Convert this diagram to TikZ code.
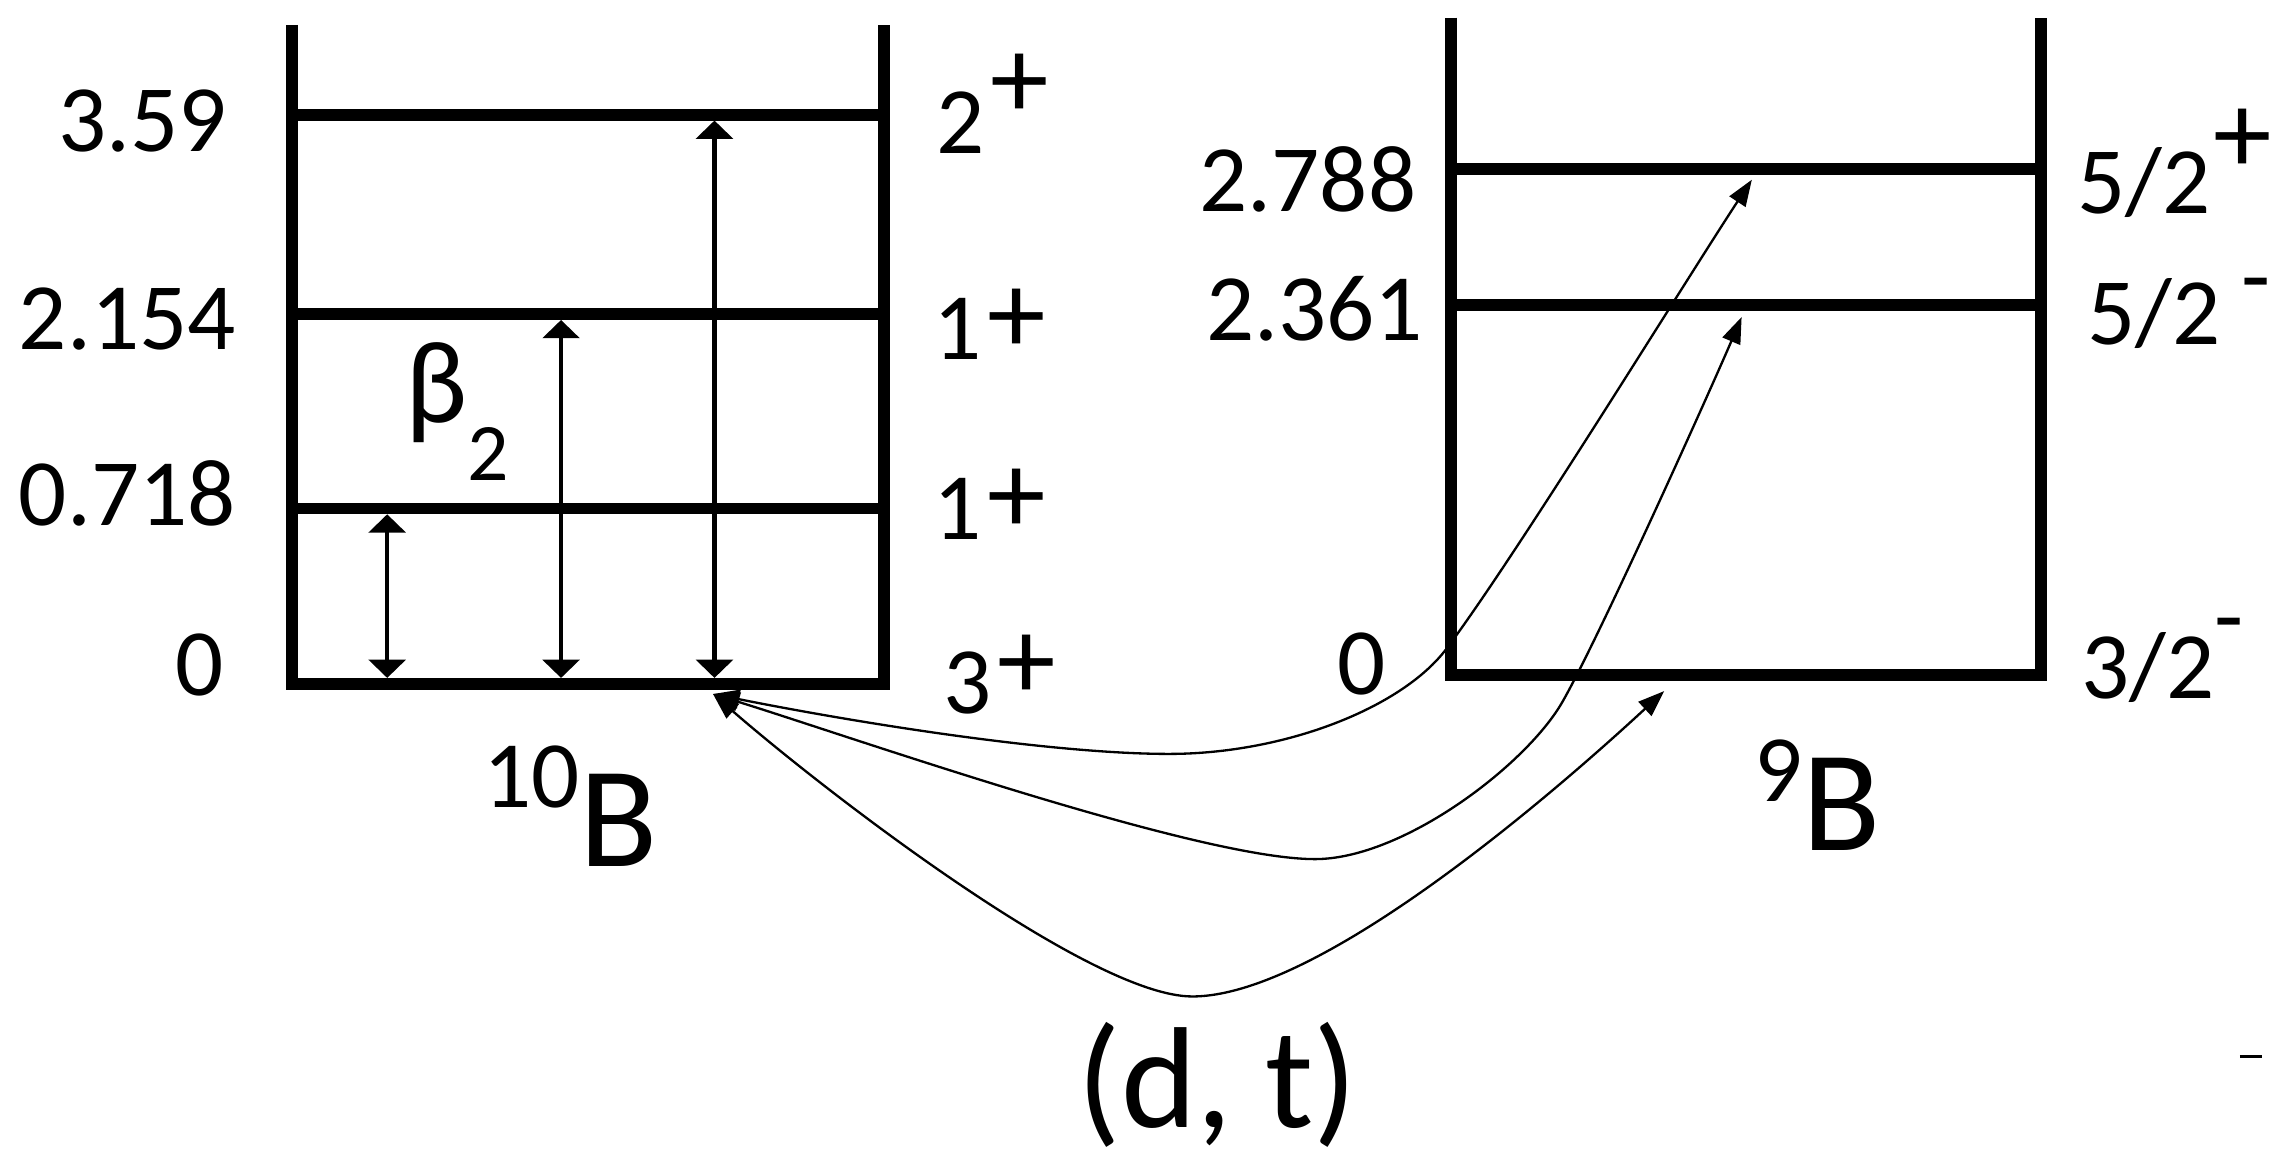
\documentclass[tikz,border=0pt]{standalone}
\usepackage{fontspec}
\setmainfont{Carlito}
\usetikzlibrary{arrows.meta}
\begin{document}
\begin{tikzpicture}[x=0.01cm,y=-0.01cm,
  lev/.style={line width=2.3pt},
  frame/.style={line width=2.3pt, line join=miter},
  vtr/.style={line width=0.85pt, {Triangle[length=0.125cm,width=0.25cm]}-{Triangle[length=0.125cm,width=0.25cm]}},
  crvb/.style={line width=0.45pt, {Triangle[length=0.18cm,width=0.13cm]}-{Triangle[length=0.18cm,width=0.13cm]}},
  lab/.style={inner sep=0pt, font=\fontsize{18.5}{20}\selectfont},
  big/.style={inner sep=0pt, font=\fontsize{28}{30}\selectfont}]
\useasboundingbox (0,0) rectangle (1568,801.45);
% ---- 10B level scheme
\draw[frame] (200,17) -- (200,468) -- (605,468) -- (605,17);
\draw[lev] (200,78.5) -- (605,78.5);
\draw[lev] (200,215) -- (605,215);
\draw[lev] (200,348) -- (605,348);
% ---- 9B level scheme
\draw[frame] (993,12) -- (993,462) -- (1397,462) -- (1397,12);
\draw[lev] (993,115.6) -- (1397,115.6);
\draw[lev] (993,209) -- (1397,209);
% ---- coordinates
\coordinate (a1t) at (265,352);  \coordinate (a1b) at (265,464);
\coordinate (a2t) at (384,219);  \coordinate (a2b) at (384,464);
\coordinate (a3t) at (489,82.5); \coordinate (a3b) at (489,464);
\coordinate (S) at (488,475);
\coordinate (T1) at (1199,123);
\coordinate (T2) at (1192,217);
\coordinate (T3) at (1139,473);
\coordinate (M1) at (800,516);  \coordinate (K1) at (990,444);
\coordinate (M2) at (900,588);  \coordinate (K2) at (1069,481);
\coordinate (M3) at (816,682);
% ---- vertical transitions
\draw[vtr] (a1t) -- (a1b);
\draw[vtr] (a2t) -- (a2b);
\draw[vtr] (a3t) -- (a3b);
% ---- (d,t) curves
\draw[crvb] (S) .. controls (588,495) and (720,516) .. (M1)
   .. controls (880,516) and (960,484) .. (K1)
   .. controls (1038,380) and (1155,190) .. (T1);
\draw[crvb] (S) .. controls (583.5,504.6) and (820,588) .. (M2)
   .. controls (960,588) and (1044,524) .. (K2)
   .. controls (1094,437.6) and (1172.4,263) .. (T2);
\draw[crvb] (S) .. controls (563.5,540.6) and (746,682) .. (M3)
   .. controls (906,682) and (1073,534) .. (T3);
% ---- labels 10B
\node[lab, anchor=base east] (e1) at (156,104) {3.59};
\node[lab, anchor=base east] (e2) at (162,239) {2.154};
\node[lab, anchor=base east] (e3) at (162,360) {0.718};
\node[lab, anchor=base east] (e4) at (154,476) {0};
\node[lab, anchor=base west] (j1) at (640,105) {2\hspace{0.04cm}\raisebox{0.24cm}{\fontsize{22.8}{24}\selectfont +}};
\node[lab, anchor=base west] (j2) at (638,246) {1\hspace{0.04cm}\raisebox{0.04cm}{\fontsize{22.8}{24}\selectfont +}};
\node[lab, anchor=base west] (j3) at (638,369) {1\hspace{0.04cm}\raisebox{0.04cm}{\fontsize{22.8}{24}\selectfont +}};
\node[lab, anchor=base west] (j4) at (645,488) {3\hspace{0.04cm}\raisebox{0.09cm}{\fontsize{22.8}{24}\selectfont +}};
\node[anchor=base west, inner sep=0pt] (beta) at (277,289) {\fontsize{22.8}{24}\selectfont β\raisebox{-0.40cm}{\fontsize{15.9}{17}\selectfont 2}};
\node[big, anchor=base west] (n10) at (330,593) {\raisebox{0.40cm}{\fontsize{18.5}{20}\selectfont 10}B};
% ---- labels 9B
\node[lab, anchor=base east] (f1) at (970,145) {2.788};
\node[lab, anchor=base east] (f2) at (974.5,233) {2.361};
\node[lab, anchor=base east] (f3) at (949,475) {0};
\node[lab, anchor=base west] (k1) at (1421,146) {5/2\hspace{0.02cm}\raisebox{0.27cm}{\fontsize{22.8}{24}\selectfont +}};
\node[lab, anchor=base west] (k2) at (1428,236) {5/2\hspace{0.14cm}\raisebox{0.25cm}{-}};
\node[lab, anchor=base west] (k3) at (1424,478) {3/2\raisebox{0.34cm}{-}};
\node[big, anchor=base west] (n9) at (1200,582.4) {\raisebox{0.337cm}{\fontsize{18.5}{20}\selectfont 9}B};
% ---- reaction
\node[big, anchor=base west] (dt) at (737,772) {(d, t)};
\draw[line width=0.7pt] (1533,723) -- (1548,723);
\end{tikzpicture}
\end{document}
